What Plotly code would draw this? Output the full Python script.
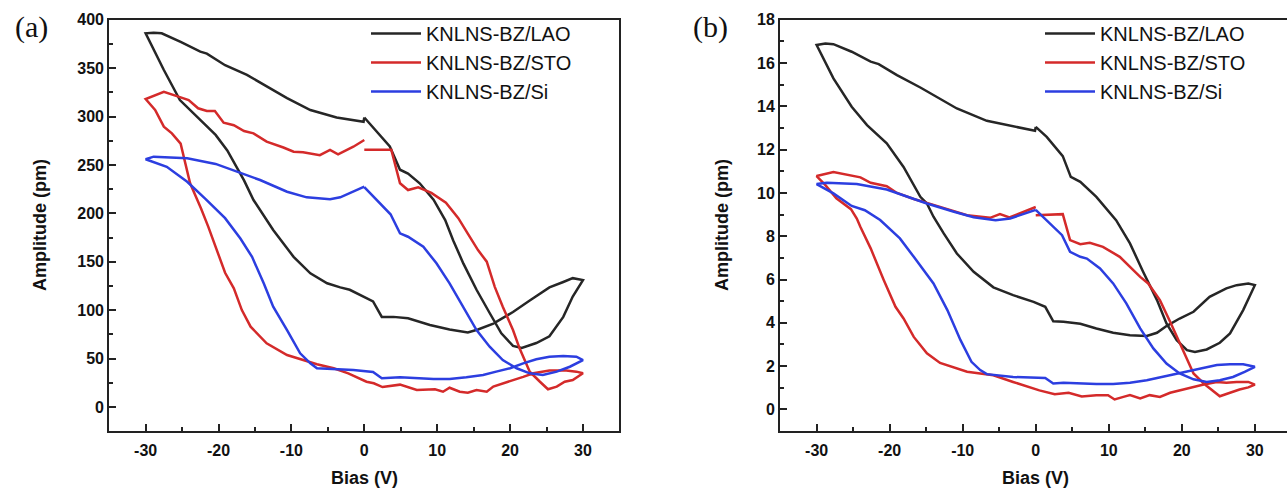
import plotly.graph_objects as go

# ---------------- data: panel (a), amplitude in pm ----------------
lao_a_bias = [0, 3.5, 4.9, 6, 7.6, 9.5, 11.1, 12.2, 13.6, 15.4, 17.2, 18.8, 20.4, 21.6, 23.6, 25.4, 27.3, 28.6, 30,
              28.6, 27.3, 25.4, 22.7, 20.4, 17.7, 15.6, 14.2, 11.7, 9, 6, 4, 2.4, 1.2, -0.6, -2, -3.3, -5.1, -7.4, -9.7,
              -12.5, -13.6, -15.2, -16.5, -18.8, -20.4, -23, -25.3, -27.5, -30,
              -28.9, -27.8, -25.2, -22.5, -21.6, -19.1, -16.1, -13.4, -10.6, -7.4, -3.8, -0.1, 0]
lao_a_amp = [299, 269, 245, 241, 231, 214, 193, 172, 148, 121, 97, 76, 63, 61, 66, 73, 93, 114, 131,
             133, 129, 123.5, 110, 98, 86, 80, 77, 80, 84.6, 91.5, 93, 93, 109, 115.6, 121, 123.5, 127.7, 138, 155,
             182.7, 195, 213.7, 234, 265, 281, 300, 317, 348, 386,
             386.6, 386, 377, 367, 365, 353, 343, 331.5, 319, 306.7, 299, 294.6, 299]

sto_a_bias = [0, 3.7, 4.9, 6, 7.4, 9.2, 11.2, 12.9, 14.2, 15.6, 16.8, 17.9, 19, 20.4, 21.3, 22.7, 24.1, 25.2, 26.4,
              27.5, 28.6, 30,
              29.1, 27.7, 25.4, 23.2, 21.8, 20.4, 19, 17.7, 16.8, 15.4, 14.2, 13.1, 11.7, 10.8, 9.7, 7.2, 4.9, 2.5,
              1.3, 0.3, -2.2, -4.2, -6.5, -8.8, -10.6, -13.4, -15.6, -16.8, -17.9, -19.1, -20.2, -21.4, -22.4, -23.9,
              -25.2, -26.4, -27.5, -28.7, -30,
              -27.5, -25.2, -24.1, -22.8, -21.6, -20.5, -19.3, -17.9, -16.5, -15.2, -13.4, -11.1, -9.7, -8.4, -6.1,
              -4.7, -3.6, -1.5, 0]
sto_a_amp = [265.7, 265.7, 231, 224, 226.8, 221, 211, 195, 179, 162, 150, 124, 103.5, 79.4, 60.5, 36.4, 26, 18.2, 21,
             26, 27.8, 34.7,
             36.4, 37.5, 37.5, 34.7, 31, 27.8, 24.4, 21, 15.7, 17.5, 14.7, 15.7, 19.8, 15.7, 18.2, 17.5, 23, 20.5,
             24.4, 26, 34.7, 39.9, 44, 49, 53.6, 65.7, 82.9, 100, 122.5, 138.6, 162, 186, 205, 231,
             272, 282.6, 289.5, 306.7, 318,
             325.6, 319.8, 317, 308.5, 305.7, 305.7, 293.6, 291, 285, 282.6, 274, 268, 263.6, 263, 260,
             265.4, 261, 268.8, 275.7]

si_a_bias = [0, 3.6, 4.9, 6, 8.1, 9.9, 11.7, 13.6, 15.4, 17.2, 19, 20.9, 22.7, 24.5, 26.4, 28.2, 30,
             29.1, 27.3, 25.4, 23.6, 21.8, 20, 18.1, 16.3, 14, 11.7, 9.5, 7.2, 4.9, 2.4, 1.2, -1.5, -4.2, -6.5, -7.4,
             -8.8, -10.6, -12.5, -13.8, -15.4, -17, -19.1, -21.8, -24.3, -27.1, -30,
             -28.9, -27.1, -24.3, -20.4, -17.9, -14.3, -10.6, -7.9, -4.7, -3.3, 0]
si_a_amp = [227, 199, 179.3, 175.8, 165.5, 148.3, 127.7, 103.5, 79.4, 62.2, 48.4, 39.9, 34.7, 33, 36.4, 41.5, 48.4,
            51.9, 52.6, 51.9, 49.2, 45, 39.9, 36.4, 33, 30.6, 28.8, 28.8, 29.5, 30.6, 29.5, 36, 38.1, 38.8, 39.9, 45,
            55.4, 79.4, 103.5, 127.7, 155, 174, 195, 215, 232.6, 248, 255.8,
            258.5, 257.8, 256.8, 251, 244, 234.4, 222.3, 216.5, 214.5, 216.5, 227.5]

# ---------------- data: panel (b), amplitude in pm ----------------
lao_b_bias = [0, 1.5, 3.7, 4.8, 6.1, 8.3, 11, 12.9, 14.7, 16.6, 17.9, 19.3, 20.7, 21.8, 23.4, 25.2, 26.6, 28.4, 30,
              29.1, 27.5, 26.1, 23.8, 21.6, 19.7, 17.9, 16.6, 15.2, 12.9, 10.6, 8.3, 6.1, 3.8, 2.4, 1.3, -0.3, -3.1,
              -5.8, -8.5, -10.8, -12.6, -14, -14.9, -15.8, -18.1, -20.4, -23.1, -25.2, -27.7, -30,
              -28.8, -27.7, -25.2, -22.6, -21.5, -19, -15.8, -13.5, -10.8, -6.7, -3.5, -0.1, 0]
lao_b_amp = [13.05, 12.59, 11.7, 10.74, 10.51, 9.82, 8.74, 7.67, 6.36, 5.05, 3.97, 3.2, 2.74, 2.66, 2.77, 3.08, 3.51,
             4.59, 5.74,
             5.82, 5.74, 5.59, 5.2, 4.51, 4.2, 3.85, 3.54, 3.39, 3.43, 3.54, 3.74, 3.96, 4.05, 4.07, 4.74, 4.97, 5.28,
             5.64, 6.36, 7.2, 8.13, 8.9, 9.51, 9.82, 11.2, 12.29, 13.13, 13.98, 15.29, 16.83,
             16.9, 16.87, 16.52, 16.06, 15.95, 15.44, 14.87, 14.44, 13.9, 13.33, 13.09, 12.87, 13.05]

sto_b_bias = [0, 3.7, 4.7, 6.1, 7.4, 9.2, 11.5, 12.9, 14.3, 15.4, 17, 18.4, 20.2, 21.6, 23, 25.2, 26.6, 27.9, 29.1, 30,
              29.1, 27.5, 26.1, 24.8, 23, 21.6, 19.7, 18.4, 17, 15.6, 14.3, 12.9, 12, 10.8, 9.9, 8.3, 6.3, 4.5, 2.6,
              0.5, -3.1, -5.8, -9.4, -13.1, -14.9, -16.7, -18.1, -19.2, -20.8, -22.6, -24, -24.5, -25.3, -27.3,
              -28.8, -30,
              -27.7, -24, -22.6, -20.4, -19, -16.7, -14, -11.3, -9.4, -6.25, -4.9, -3.6, 0]
sto_b_amp = [8.97, 9.02, 7.82, 7.63, 7.7, 7.51, 7.05, 6.59, 6.12, 5.82, 5.05, 4.05, 2.74, 1.66, 1.2, 0.61, 0.77, 0.92,
             1.02, 1.15,
             1.27, 1.27, 1.23, 1.27, 1.15, 1.04, 0.89, 0.77, 0.58, 0.66, 0.51, 0.66, 0.58, 0.46, 0.66, 0.66, 0.6,
             0.77, 0.7, 0.88, 1.27, 1.58, 1.74, 2.15, 2.59, 3.35, 4.2, 4.74, 5.97, 7.44, 8.43, 8.82, 9.25, 9.75,
             10.36, 10.78,
             10.97, 10.72, 10.47, 10.31, 10.0, 9.72, 9.45, 9.17, 8.97, 8.85, 9.02, 8.87, 9.35]

si_b_bias = [0, 3.6, 4.7, 6.1, 7, 8.8, 10.6, 12.4, 14.3, 16.1, 17.9, 19.7, 21.6, 23.4, 25.2, 27, 28.6, 30,
             28.4, 26.6, 24.8, 23, 21.1, 19.3, 17.5, 15.2, 12.9, 10.6, 8.3, 6.1, 3.8, 2.4, 1.3, -3.1, -6.7, -7.6,
             -8.8, -10.3, -12.1, -14, -15.4, -16.7, -18.6, -21.3, -23.4, -25.2, -27.7, -30,
             -28.6, -24.5, -20.4, -17.6, -14.9, -11.2, -8.5, -5.5, -3.5, 0]
si_b_amp = [9.22, 8.05, 7.28, 7.05, 6.97, 6.51, 5.82, 4.9, 3.74, 2.82, 2.12, 1.66, 1.39, 1.27, 1.35, 1.5, 1.74, 1.97,
            2.09, 2.09, 2.05, 1.92, 1.78, 1.63, 1.5, 1.35, 1.23, 1.17, 1.17, 1.2, 1.23, 1.2, 1.45, 1.5, 1.63, 1.82,
            2.2, 3.2, 4.59, 5.82, 6.43, 7.05, 7.9, 8.75, 9.2, 9.4, 9.98, 10.41,
            10.47, 10.41, 10.16, 9.82, 9.51, 9.13, 8.88, 8.74, 8.82, 9.22]

series_names = ["KNLNS-BZ/LAO", "KNLNS-BZ/STO", "KNLNS-BZ/Si"]
series_colors = ["#262626", "#d42a2a", "#2c3ee0"]

panel_a = [(lao_a_bias, lao_a_amp), (sto_a_bias, sto_a_amp), (si_a_bias, si_a_amp)]
panel_b = [(lao_b_bias, lao_b_amp), (sto_b_bias, sto_b_amp), (si_b_bias, si_b_amp)]

x_ticks = [-30, -20, -10, 0, 10, 20, 30]
x_tick_labels = ["-30", "-20", "-10", "0", "10", "20", "30"]

# ---------------- figure ----------------
W, H = 1287, 492
fig = go.Figure()

for (xs, ys), name, col in zip(panel_a, series_names, series_colors):
    fig.add_trace(go.Scatter(x=xs, y=ys, mode="lines", name=name, line=dict(color=col, width=2.5),
                             xaxis="x", yaxis="y", legend="legend"))
for (xs, ys), name, col in zip(panel_b, series_names, series_colors):
    fig.add_trace(go.Scatter(x=xs, y=ys, mode="lines", name=name, line=dict(color=col, width=2.5),
                             xaxis="x2", yaxis="y2", legend="legend2"))

tickfont = dict(family="Liberation Sans, Arial", size=16, color="#111111", weight="bold")

def xax(domain, rng):
    return dict(domain=domain, range=rng, tickvals=x_ticks, ticktext=x_tick_labels, ticks="inside", ticklen=7,
                tickwidth=1.5, tickcolor="#222", showline=True, linewidth=2, linecolor="#222", mirror=True,
                showgrid=False, zeroline=False, tickfont=tickfont, ticklabelstandoff=4, automargin=False,
                minor=dict(dtick=5, tick0=0, ticks="inside", ticklen=4, tickwidth=1.5, tickcolor="#222",
                           showgrid=False))

def yax(domain, rng, dtick, mdtick, anchor):
    return dict(domain=domain, range=rng, dtick=dtick, tick0=0, ticks="inside", ticklen=7, tickwidth=1.5,
                tickcolor="#222", showline=True, linewidth=2, linecolor="#222", mirror=True,
                showgrid=False, zeroline=False, tickfont=tickfont, anchor=anchor, automargin=False,
                minor=dict(dtick=mdtick, tick0=0, ticks="inside", ticklen=4, tickwidth=1.5, tickcolor="#222",
                           showgrid=False))

ydom = [(H - 431.1) / H, (H - 19.7) / H]
legfont = dict(family="Liberation Sans, Arial", size=20, color="#111")
fig.update_layout(
    width=W, height=H, margin=dict(l=0, r=0, t=0, b=0, autoexpand=False),
    paper_bgcolor="white", plot_bgcolor="white",
    xaxis=xax([109.2 / W, 619.4 / W], [-35, 35]) | dict(anchor="y"),
    yaxis=yax(ydom, [-25, 400], 50, 25, "x"),
    xaxis2=xax([780.1 / W, 1.0], [-35, 34.4]) | dict(anchor="y2"),
    yaxis2=yax(ydom, [-1, 18], 2, 1, "x2"),
    legend=dict(x=366 / W, y=(H - 14) / H, xanchor="left", yanchor="top", bgcolor="rgba(0,0,0,0)",
                font=legfont, itemwidth=50, tracegroupgap=0),
    legend2=dict(x=1040 / W, y=(H - 14) / H, xanchor="left", yanchor="top", bgcolor="rgba(0,0,0,0)",
                 font=legfont, itemwidth=50, tracegroupgap=0),
    showlegend=True,
)

title_font = dict(family="Liberation Sans, Arial", size=18, color="#111", weight="bold")
ycenter = (H - 225) / H
annos = [
    dict(text="(a)", x=31 / W, y=(H - 27) / H, font=dict(family="Liberation Serif, Times New Roman", size=30, color="#111")),
    dict(text="(b)", x=710 / W, y=(H - 27) / H, font=dict(family="Liberation Serif, Times New Roman", size=30, color="#111")),
    dict(text="Amplitude (pm)", x=40 / W, y=ycenter, textangle=-90, font=title_font),
    dict(text="Amplitude (pm)", x=722 / W, y=ycenter, textangle=-90, font=title_font),
    dict(text="Bias (V)", x=364 / W, y=(H - 478) / H, font=title_font),
    dict(text="Bias (V)", x=1035.7 / W, y=(H - 478) / H, font=title_font),
]
for a in annos:
    fig.add_annotation(xref="paper", yref="paper", showarrow=False, xanchor="center", yanchor="middle", **a)

fig.write_html("out.html", config={"displayModeBar": False},
               post_script="document.body.style.margin='0';document.body.style.overflow='hidden';")
